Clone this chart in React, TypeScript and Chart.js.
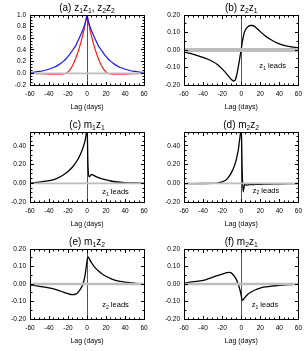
import React, { useEffect, useRef } from 'react';
import { Chart, registerables } from 'chart.js';
Chart.register(...registerables);

const FONT = '"Liberation Sans", Arial, Helvetica, sans-serif';

// ---- tick labels ----
const xTickValues = [-60, -40, -20, 0, 20, 40, 60];
const yTicksA = [-0.2, 0, 0.2, 0.4, 0.6, 0.8, 1.0];
const yTicksSmall = [-0.2, -0.1, 0, 0.1, 0.2];
const yTicksM = [-0.2, 0, 0.2, 0.4];

// ---- (a) z1z1 (blue), z2z2 (red) ----
const lagsA = [-60, -55, -50, -45, -40, -35, -30, -25, -22, -20, -18, -15, -12, -10, -8, -5, -3, -2, -1, 0,
  1, 2, 3, 5, 8, 10, 12, 15, 18, 20, 22, 25, 30, 35, 40, 45, 50, 55, 60];
const z1z1 = [0.015, 0.022, 0.033, 0.048, 0.072, 0.1, 0.145, 0.205, 0.25, 0.29, 0.33, 0.4, 0.47, 0.54, 0.61, 0.72, 0.81, 0.86, 0.92, 1.0,
  0.92, 0.86, 0.81, 0.72, 0.61, 0.54, 0.47, 0.4, 0.33, 0.29, 0.25, 0.205, 0.145, 0.1, 0.072, 0.048, 0.033, 0.022, 0.015];
const z2z2 = [0.0, -0.003, -0.006, -0.009, -0.012, -0.014, -0.015, -0.01, 0.0, 0.025, 0.06, 0.14, 0.25, 0.34, 0.44, 0.62, 0.76, 0.84, 0.92, 1.0,
  0.92, 0.84, 0.76, 0.62, 0.44, 0.34, 0.25, 0.14, 0.06, 0.025, 0.0, -0.01, -0.015, -0.014, -0.012, -0.009, -0.006, -0.003, 0.0];

// ---- (b) z2z1 ----
const lagsB = [-60, -55, -50, -45, -40, -35, -30, -25, -20, -15, -12, -10, -8, -7, -6, -5, -4, -3, -2, -1, 0,
  1, 2, 3, 4, 5, 7, 10, 12, 15, 20, 25, 30, 35, 40, 45, 50, 55, 60];
const z2z1 = [-0.012, -0.018, -0.025, -0.033, -0.042, -0.053, -0.066, -0.083, -0.108, -0.138, -0.158, -0.17, -0.177, -0.176, -0.168, -0.15, -0.125, -0.095, -0.063, -0.03, 0.003,
  0.04, 0.07, 0.095, 0.11, 0.12, 0.133, 0.14, 0.14, 0.13, 0.105, 0.082, 0.063, 0.047, 0.035, 0.027, 0.021, 0.016, 0.012];

// ---- (c) m1z1 ----
const lagsC = [-60, -50, -40, -35, -30, -25, -20, -15, -10, -7, -5, -3, -2, -1, 0, 1, 2, 3, 4, 5, 6, 8, 10, 15, 20, 25, 30, 40, 50, 60];
const m1z1 = [0.005, 0.012, 0.028, 0.04, 0.062, 0.09, 0.128, 0.178, 0.25, 0.31, 0.36, 0.42, 0.46, 0.52, 0.65, 0.2, 0.07, 0.075, 0.09, 0.095, 0.09, 0.08, 0.07, 0.05, 0.036, 0.025, 0.017, 0.008, 0.004, 0.002];

// ---- (d) m2z2 ----
const lagsD = [-60, -50, -40, -30, -25, -20, -17, -15, -12, -10, -7, -5, -4, -3, -2, -1, 0, 1, 2, 3, 4, 5, 6, 8, 10, 15, 20, 30, 40, 50, 60];
const m2z2 = [-0.003, -0.003, -0.002, 0.0, 0.003, 0.015, 0.03, 0.045, 0.085, 0.12, 0.19, 0.26, 0.31, 0.36, 0.44, 0.52, 0.65, 0.15, -0.09, -0.04, 0.0, -0.015, -0.02, -0.015, -0.013, -0.012, -0.01, -0.008, -0.005, -0.003, -0.002];

// ---- (e) m1z2 ----
const lagsE = [-60, -50, -40, -35, -30, -25, -20, -17, -15, -12, -10, -8, -6, -5, -4, -3, -2, -1, 0, 1, 2, 3, 5, 7, 10, 15, 20, 25, 30, 35, 40, 45, 50, 55, 60];
const m1z2 = [-0.006, -0.013, -0.022, -0.028, -0.036, -0.046, -0.055, -0.06, -0.061, -0.058, -0.051, -0.038, -0.02, -0.01, 0.005, 0.025, 0.05, 0.09, 0.13, 0.155, 0.148, 0.138, 0.12, 0.104, 0.085, 0.062, 0.044, 0.031, 0.021, 0.015, 0.011, 0.008, 0.005, 0.002, 0.0];

// ---- (f) m2z1 ----
const lagsF = [-60, -50, -40, -35, -30, -25, -20, -15, -13, -11, -10, -8, -6, -5, -4, -3, -2, -1, 0, 1, 2, 3, 5, 7, 10, 15, 20, 25, 30, 35, 40, 50, 60];
const m2z1 = [0.006, 0.013, 0.021, 0.029, 0.038, 0.048, 0.057, 0.065, 0.067, 0.065, 0.061, 0.05, 0.035, 0.025, 0.012, -0.002, -0.02, -0.04, -0.065, -0.093, -0.09, -0.083, -0.07, -0.058, -0.047, -0.033, -0.023, -0.017, -0.013, -0.01, -0.008, -0.004, -0.002];

type Seg = [string, boolean];
type Series = { lags: number[]; vals: number[]; color: string; w: number };
type PanelCfg = {
  left: number; top: number; width: number; height: number;
  yWidth: number; padRight: number;
  title: Seg[]; yMin: number; yMax: number; yTicks: number[]; yMinor: number; dec: number;
  band: number; series: Series[];
  note: { segs: Seg[]; x: number; y: number } | null;
};

const ROW_H = 117;
const colL = { left: 0, width: 153, yWidth: 30, padRight: 9 };
const colR = { left: 153, width: 154, yWidth: 31, padRight: 8 };

const panels: PanelCfg[] = [
  { ...colL, top: 0, height: ROW_H,
    title: [['(a) z', false], ['1', true], ['z', false], ['1', true], [', z', false], ['2', true], ['z', false], ['2', true]],
    yMin: -0.2, yMax: 1.0, yTicks: yTicksA, yMinor: 0.05, dec: 1, band: 0.015,
    series: [{ lags: lagsA, vals: z1z1, color: '#1a1aff', w: 1.2 }, { lags: lagsA, vals: z2z2, color: '#ff1a1a', w: 1.2 }],
    note: null },
  { ...colR, top: 0, height: ROW_H,
    title: [['(b) z', false], ['2', true], ['z', false], ['1', true]],
    yMin: -0.2, yMax: 0.2, yTicks: yTicksSmall, yMinor: 0.05, dec: 2, band: 0.011,
    series: [{ lags: lagsB, vals: z2z1, color: '#000000', w: 1.3 }],
    note: { segs: [['z', false], ['1', true], [' leads', false]], x: 19, y: -0.09 } },
  { ...colL, top: ROW_H, height: ROW_H,
    title: [['(c) m', false], ['1', true], ['z', false], ['1', true]],
    yMin: -0.2, yMax: 0.55, yTicks: yTicksM, yMinor: 0.05, dec: 2, band: 0.01,
    series: [{ lags: lagsC, vals: m1z1, color: '#000000', w: 1.3 }],
    note: { segs: [['z', false], ['1', true], [' leads', false]], x: 16, y: -0.086 } },
  { ...colR, top: ROW_H, height: ROW_H,
    title: [['(d) m', false], ['2', true], ['z', false], ['2', true]],
    yMin: -0.2, yMax: 0.55, yTicks: yTicksM, yMinor: 0.05, dec: 2, band: 0.01,
    series: [{ lags: lagsD, vals: m2z2, color: '#000000', w: 1.3 }],
    note: { segs: [['z', false], ['2', true], [' leads', false]], x: 12, y: -0.072 } },
  { ...colL, top: 2 * ROW_H, height: ROW_H,
    title: [['(e) m', false], ['1', true], ['z', false], ['2', true]],
    yMin: -0.2, yMax: 0.2, yTicks: yTicksSmall, yMinor: 0.05, dec: 2, band: 0.007,
    series: [{ lags: lagsE, vals: m1z2, color: '#000000', w: 1.3 }],
    note: { segs: [['z', false], ['2', true], [' leads', false]], x: 16, y: -0.118 } },
  { ...colR, top: 2 * ROW_H, height: ROW_H,
    title: [['(f) m', false], ['2', true], ['z', false], ['1', true]],
    yMin: -0.2, yMax: 0.2, yTicks: yTicksSmall, yMinor: 0.05, dec: 2, band: 0.007,
    series: [{ lags: lagsF, vals: m2z1, color: '#000000', w: 1.3 }],
    note: { segs: [['z', false], ['1', true], [' leads', false]], x: 11, y: -0.118 } },
];

const al = (v: number) => Math.floor(v) + 0.5;

function drawRich(ctx: CanvasRenderingContext2D, segs: Seg[], x: number, cy: number, size: number, align: 'center' | 'left') {
  const sub = size * 0.68;
  let w = 0;
  for (const [t, s] of segs) {
    ctx.font = `${s ? sub : size}px ${FONT}`;
    w += ctx.measureText(t).width;
  }
  let cx = align === 'center' ? x - w / 2 : x;
  const base = cy + size * 0.36;
  ctx.textAlign = 'left';
  ctx.textBaseline = 'alphabetic';
  ctx.fillStyle = '#000';
  for (const [t, s] of segs) {
    ctx.font = `${s ? sub : size}px ${FONT}`;
    ctx.fillText(t, cx, s ? base + size * 0.22 : base);
    cx += ctx.measureText(t).width;
  }
}

function makeDecor(cfg: PanelCfg) {
  return {
    id: 'decor',
    beforeDatasetsDraw(chart: any) {
      const { ctx, chartArea } = chart;
      const x0 = al(chart.scales.x.getPixelForValue(0));
      ctx.save();
      ctx.strokeStyle = '#555';
      ctx.lineWidth = 1;
      ctx.beginPath();
      ctx.moveTo(x0, chartArea.top);
      ctx.lineTo(x0, chartArea.bottom);
      ctx.stroke();
      ctx.restore();
    },
    afterDraw(chart: any) {
      const { ctx, chartArea } = chart;
      const xs = chart.scales.x, ys = chart.scales.y;
      const L = al(chartArea.left), R = al(chartArea.right), T = al(chartArea.top), B = al(chartArea.bottom);
      ctx.save();
      ctx.strokeStyle = '#000';
      ctx.lineWidth = 1;
      ctx.strokeRect(L, T, R - L, B - T);
      ctx.beginPath();
      for (let v = -60; v <= 60; v += 5) {
        const len = v % 20 === 0 ? 3.5 : 2;
        const px = al(xs.getPixelForValue(v));
        ctx.moveTo(px, B); ctx.lineTo(px, B - len);
        ctx.moveTo(px, T); ctx.lineTo(px, T + len);
      }
      const k0 = Math.ceil(cfg.yMin / cfg.yMinor - 1e-6), k1 = Math.floor(cfg.yMax / cfg.yMinor + 1e-6);
      for (let k = k0; k <= k1; k++) {
        const v = k * cfg.yMinor;
        const major = cfg.yTicks.some((t) => Math.abs(t - v) < 1e-6);
        const len = major ? 3.5 : 2;
        const py = al(ys.getPixelForValue(v));
        ctx.moveTo(L, py); ctx.lineTo(L + len, py);
        ctx.moveTo(R, py); ctx.lineTo(R - len, py);
      }
      ctx.stroke();
      drawRich(ctx, cfg.title, (chartArea.left + chartArea.right) / 2, chartArea.top - 7.5, 10, 'center');
      if (cfg.note) {
        drawRich(ctx, cfg.note.segs, xs.getPixelForValue(cfg.note.x), ys.getPixelForValue(cfg.note.y), 7.5, 'left');
      }
      ctx.restore();
    },
  };
}

function Panel({ cfg }: { cfg: PanelCfg }) {
  const ref = useRef<HTMLCanvasElement | null>(null);
  useEffect(() => {
    if (!ref.current) return;
    const bandColor = '#bdbdbd';
    const datasets: any[] = [
      { data: [{ x: -60, y: cfg.band }, { x: 60, y: cfg.band }], borderColor: 'rgba(0,0,0,0)', borderWidth: 0, pointRadius: 0, fill: false },
      { data: [{ x: -60, y: -cfg.band }, { x: 60, y: -cfg.band }], borderColor: 'rgba(0,0,0,0)', borderWidth: 0, pointRadius: 0, fill: '-1', backgroundColor: bandColor },
      ...cfg.series.map((s) => ({
        data: s.lags.map((x, i) => ({ x, y: s.vals[i] })),
        borderColor: s.color, borderWidth: s.w, pointRadius: 0, fill: false,
        cubicInterpolationMode: 'monotone',
      })),
    ];
    const tickFont = { size: 6.5, family: FONT };
    const chart = new Chart(ref.current, {
      type: 'line',
      data: { datasets },
      options: {
        animation: false,
        responsive: false,
        maintainAspectRatio: false,
        events: [],
        layout: { padding: { left: 0, right: cfg.padRight, top: 15, bottom: 0 } },
        plugins: { legend: { display: false }, tooltip: { enabled: false }, title: { display: false } },
        scales: {
          x: {
            type: 'linear', min: -60, max: 60,
            afterBuildTicks: (s: any) => { s.ticks = xTickValues.map((v) => ({ value: v })); },
            afterFit: (s: any) => { s.height = 32; },
            grid: { display: false, drawTicks: false },
            border: { display: false },
            ticks: { font: tickFont, color: '#000', padding: 5, maxRotation: 0, autoSkip: false, callback: (v: any) => String(v) },
            title: { display: true, text: 'Lag (days)', font: { size: 7, family: FONT }, color: '#000', padding: { top: 0, bottom: 6 } },
          },
          y: {
            type: 'linear', min: cfg.yMin, max: cfg.yMax,
            afterBuildTicks: (s: any) => { s.ticks = cfg.yTicks.map((v) => ({ value: v })); },
            afterFit: (s: any) => { s.width = cfg.yWidth; },
            grid: { display: false, drawTicks: false },
            border: { display: false },
            ticks: { font: tickFont, color: '#000', padding: 4, autoSkip: false, callback: (v: any) => Number(v).toFixed(cfg.dec) },
          },
        },
      } as any,
      plugins: [makeDecor(cfg)],
    });
    return () => chart.destroy();
  }, [cfg]);
  return (
    <canvas
      ref={ref}
      width={cfg.width}
      height={cfg.height}
      style={{ position: 'absolute', left: cfg.left, top: cfg.top, width: cfg.width, height: cfg.height }}
    />
  );
}

export default function App() {
  return (
    <div style={{ position: 'fixed', left: 0, top: 0, width: 307, height: 351, background: '#fff', overflow: 'hidden' }}>
      {panels.map((p, i) => <Panel key={i} cfg={p} />)}
    </div>
  );
}
